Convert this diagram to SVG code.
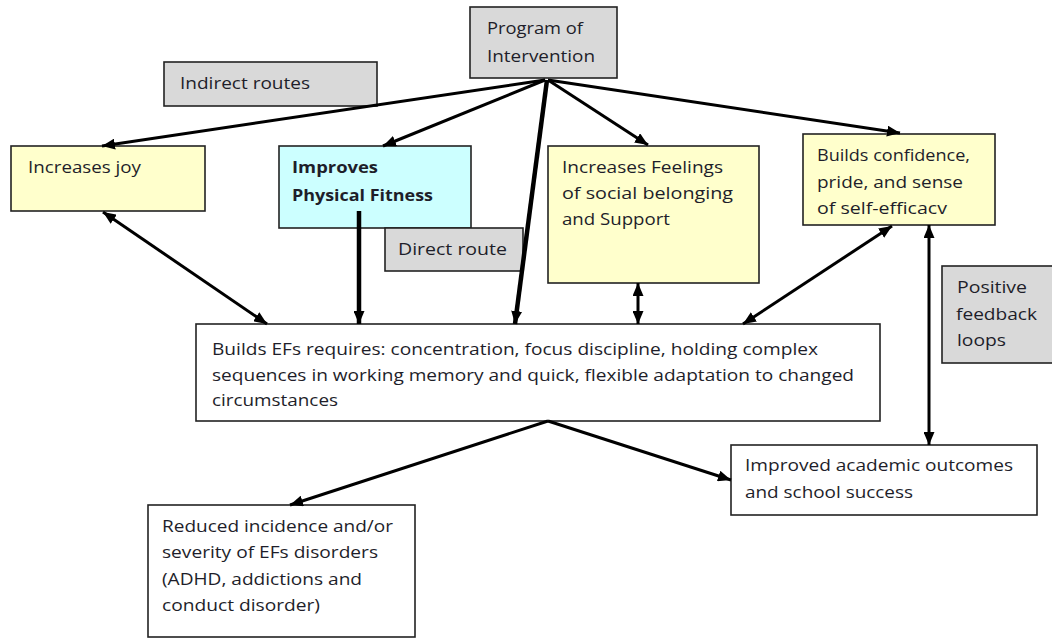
<svg xmlns="http://www.w3.org/2000/svg" width="1052" height="639" viewBox="0 0 1052 639">
<style>
  .box { stroke: #222; stroke-width: 1.6; }
  .gray { fill: #d9d9d9; }
  .yellow { fill: #ffffcc; }
  .cyan { fill: #ccffff; }
  .white { fill: #ffffff; }
  text { font-family: "Open Sans", "Liberation Sans", sans-serif; font-size: 16px; fill: #1e1e2a; }
  .b { font-weight: bold; }
  .ln { stroke: #000; stroke-width: 3; fill: none; }
  .thick { stroke-width: 4.5; }
</style>
<defs>
  <marker id="ah" markerUnits="userSpaceOnUse" markerWidth="13" markerHeight="11" refX="13" refY="5.5" orient="auto-start-reverse">
    <path d="M0,0 L13,5.5 L0,11 z" fill="#000"/>
  </marker>
</defs>
<rect width="1052" height="639" fill="#ffffff"/>

<g id="program">
  <rect class="box gray" x="470" y="7" width="147" height="71"/>
  <text x="487" y="34" textLength="96" lengthAdjust="spacingAndGlyphs">Program of</text>
  <text x="487" y="62" textLength="108" lengthAdjust="spacingAndGlyphs">Intervention</text>
</g>
<g id="indirect">
  <rect class="box gray" x="164" y="62" width="213" height="44"/>
  <text x="180" y="89" textLength="130" lengthAdjust="spacingAndGlyphs">Indirect routes</text>
</g>
<g id="joy">
  <rect class="box yellow" x="11" y="146" width="194" height="65"/>
  <text x="28" y="173" textLength="113" lengthAdjust="spacingAndGlyphs">Increases joy</text>
</g>
<g id="fitness">
  <rect class="box cyan" x="279" y="146" width="192" height="82"/>
  <text class="b" x="292" y="173" textLength="86" lengthAdjust="spacingAndGlyphs">Improves</text>
  <text class="b" x="292" y="201" textLength="141" lengthAdjust="spacingAndGlyphs">Physical Fitness</text>
</g>
<g id="direct">
  <rect class="box gray" x="385" y="228" width="138" height="43"/>
  <text x="398" y="255" textLength="109" lengthAdjust="spacingAndGlyphs">Direct route</text>
</g>
<g id="feelings">
  <rect class="box yellow" x="548" y="146" width="211" height="137"/>
  <text x="562" y="173" textLength="161" lengthAdjust="spacingAndGlyphs">Increases Feelings</text>
  <text x="562" y="199" textLength="171" lengthAdjust="spacingAndGlyphs">of social  belonging</text>
  <text x="562" y="225" textLength="108" lengthAdjust="spacingAndGlyphs">and Support</text>
</g>
<g id="confidence">
  <rect class="box yellow" x="803" y="134" width="192" height="91"/>
  <text x="817" y="161" textLength="153" lengthAdjust="spacingAndGlyphs">Builds confidence,</text>
  <text x="817" y="188" textLength="146" lengthAdjust="spacingAndGlyphs">pride, and sense</text>
  <text x="817" y="214" textLength="130" lengthAdjust="spacingAndGlyphs">of self-efficacv</text>
</g>
<g id="feedback">
  <rect class="box gray" x="942" y="266" width="115" height="97"/>
  <text x="957" y="293" textLength="70" lengthAdjust="spacingAndGlyphs">Positive</text>
  <text x="956" y="320" textLength="81" lengthAdjust="spacingAndGlyphs">feedback</text>
  <text x="957" y="346" textLength="49" lengthAdjust="spacingAndGlyphs">loops</text>
</g>
<g id="efs">
  <rect class="box white" x="196" y="324" width="684" height="97"/>
  <text x="212" y="355" textLength="606" lengthAdjust="spacingAndGlyphs">Builds EFs requires: concentration, focus discipline, holding complex</text>
  <text x="212" y="381" textLength="642" lengthAdjust="spacingAndGlyphs">sequences in working memory and quick, flexible adaptation to changed</text>
  <text x="212" y="406" textLength="126" lengthAdjust="spacingAndGlyphs">circumstances</text>
</g>
<g id="academic">
  <rect class="box white" x="731" y="445" width="306" height="70"/>
  <text x="745" y="471" textLength="268" lengthAdjust="spacingAndGlyphs">Improved academic outcomes</text>
  <text x="745" y="498" textLength="168" lengthAdjust="spacingAndGlyphs">and school success</text>
</g>
<g id="disorders">
  <rect class="box white" x="148" y="505" width="267" height="132"/>
  <text x="162" y="532" textLength="231" lengthAdjust="spacingAndGlyphs">Reduced incidence and/or</text>
  <text x="162" y="558" textLength="216" lengthAdjust="spacingAndGlyphs">severity of EFs disorders</text>
  <text x="162" y="585" textLength="200" lengthAdjust="spacingAndGlyphs">(ADHD, addictions and</text>
  <text x="162" y="611" textLength="158" lengthAdjust="spacingAndGlyphs">conduct disorder)</text>
</g>

<g id="connectors">
  <path class="ln" d="M545,80 L102,146" marker-end="url(#ah)"/>
  <path class="ln" d="M545,80 L383,146" marker-end="url(#ah)"/>
  <path class="ln thick" d="M547,80 L515,324" marker-end="url(#ah)"/>
  <path class="ln" d="M548,80 L648,145" marker-end="url(#ah)"/>
  <path class="ln" d="M548,80 L900,133" marker-end="url(#ah)"/>
  <path class="ln thick" d="M359,211 L359,324" marker-end="url(#ah)"/>
  <path class="ln" d="M103,212 L267,324" marker-start="url(#ah)" marker-end="url(#ah)"/>
  <path class="ln" d="M638,283 L638,324" marker-start="url(#ah)" marker-end="url(#ah)"/>
  <path class="ln" d="M892,226 L743,324" marker-start="url(#ah)" marker-end="url(#ah)"/>
  <path class="ln" d="M929,225 L929,445" marker-start="url(#ah)" marker-end="url(#ah)"/>
  <path class="ln" d="M548,421 L290,505" marker-end="url(#ah)"/>
  <path class="ln" d="M548,421 L731,480" marker-end="url(#ah)"/>
</g>
</svg>
